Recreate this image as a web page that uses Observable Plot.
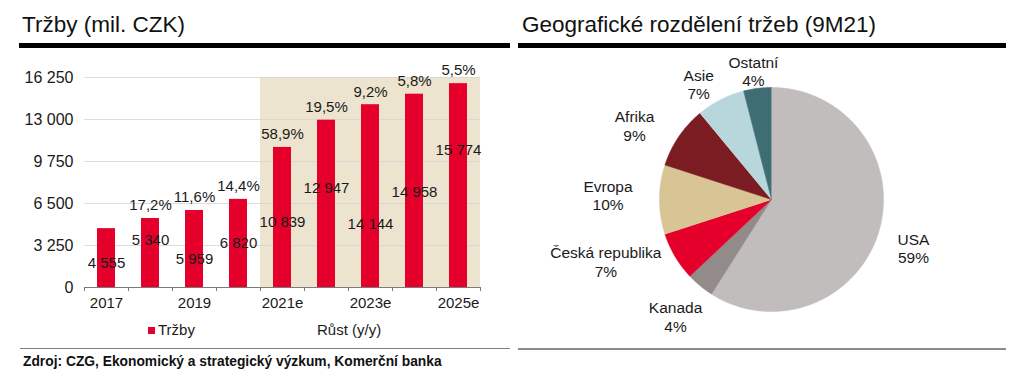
<!DOCTYPE html>
<html>
<head>
<meta charset="utf-8">
<script src="https://cdn.jsdelivr.net/npm/d3@7"></script>
<script src="https://cdn.jsdelivr.net/npm/@observablehq/plot@0.6"></script>
<style>
  body { margin: 0; background: #fff; font-family: "Liberation Sans", Arial, sans-serif; color: #1a1a1a; }
  #wrap { position: relative; width: 1024px; height: 380px; overflow: hidden; }
  .abs { position: absolute; }
  .title { font-size: 22.5px; line-height: 22.5px; white-space: nowrap; color: #111; }
  .bar { background: #000; height: 5px; }
  .leg { font-size: 15px; line-height: 17px; white-space: nowrap; }
  .src { font-size: 13.8px; line-height: 14px; font-weight: bold; white-space: nowrap; color: #111; }
</style>
</head>
<body>
<div id="wrap">
  <div class="abs title" style="left:22px; top:14px;">Tržby (mil. CZK)</div>
  <div class="abs bar" style="left:19px; top:43px; width:491px;"></div>
  <div class="abs" id="barchart" style="left:0px; top:50px;"></div>
  <div class="abs" style="left:148px; top:327px; width:7px; height:7px; background:#e4002b;"></div>
  <div class="abs leg" style="left:158px; top:321px;">Tržby</div>
  <div class="abs leg" style="left:317px; top:321px;">Růst (y/y)</div>
  <div class="abs" style="left:20px; top:348px; width:490px; height:1px; background:#808080;"></div>
  <div class="abs src" style="left:23px; top:355px;">Zdroj: CZG, Ekonomický a strategický výzkum, Komerční banka</div>

  <div class="abs title" style="left:522px; top:14px;">Geografické rozdělení tržeb (9M21)</div>
  <div class="abs bar" style="left:518px; top:43px; width:488px;"></div>
  <div class="abs" id="piechart" style="left:518px; top:50px;"></div>
  <div class="abs" style="left:518px; top:348px; width:488px; height:2px; background:#8c8c8c;"></div>
</div>
<script>
// ---------- data: revenue chart ----------
const years = ["2017", "2018", "2019", "2020", "2021e", "2022e", "2023e", "2024e", "2025e"];
const revenue = [4555, 5340, 5959, 6820, 10839, 12947, 14144, 14958, 15774];
const growthPct = [null, 17.2, 11.6, 14.4, 58.9, 19.5, 9.2, 5.8, 5.5];
const forecastYears = ["2021e", "2022e", "2023e", "2024e", "2025e"];
const yTicks = [0, 3250, 6500, 9750, 13000, 16250];
const xTickLabels = ["2017", "2019", "2021e", "2023e", "2025e"];
// where the value labels sit in the reference (in mil. CZK units)
const revenueLabelAt = [1850, 3640, 2170, 3400, 5030, 7660, 4880, 7350, 10600];

// ---------- data: geographic split ----------
const regions = ["USA", "Kanada", "Česká republika", "Evropa", "Afrika", "Asie", "Ostatní"];
const shares = [59, 4, 7, 10, 9, 7, 4];
const regionColors = ["#c1bdbc", "#928b8a", "#e4002b", "#d9c496", "#7b1c22", "#b7d7dc", "#3e6e73"];
// label placement: distance from centre (in radii) and angular shift (deg)
const labelDist = [1.34, 1.35, 1.58, 1.46, 1.39, 1.22, 1.16];
const labelTurn = [2.7, -0.2, 10, 1.6, -5.8, -5.2, -0.8];

const font = "Liberation Sans, Arial, sans-serif";
const fmtNum = d => d3.format(",")(d).replace(/,/g, " ");
const fmtPct = d => d.toFixed(1).replace(".", ",") + "%";

const rows = years.map((y, i) => ({year: y, value: revenue[i], growth: growthPct[i], labelAt: revenueLabelAt[i]}));

const bar = Plot.plot({
  width: 500,
  height: 262,
  marginLeft: 84,
  marginRight: 20,
  marginTop: 27,
  marginBottom: 25,
  style: {fontFamily: font, color: "#1a1a1a", background: "transparent"},
  x: {domain: years, padding: 0, axis: null},
  y: {domain: [0, 16250], axis: null},
  marks: [
    Plot.barY(forecastYears, {x: d => d, y1: 0, y2: 16250, fill: "#ede4cf"}),
    Plot.gridY(yTicks, {stroke: "#d4d4d4", strokeOpacity: 0.8}),
    Plot.barY(rows, {x: "year", y: "value", fill: "#e4002b", insetLeft: 13, insetRight: 13}),
    Plot.ruleY([0], {stroke: "#7a7a7a"}),
    Plot.axisX({ticks: years, tickSize: 4, dx: -22, tickFormat: () => "", label: null, stroke: "#7a7a7a"}),
    Plot.axisX({ticks: ["2025e"], tickSize: 4, dx: 22, tickFormat: () => "", label: null, stroke: "#7a7a7a"}),
    Plot.axisX({ticks: xTickLabels, tickSize: 0, tickPadding: 10, fontSize: 15, label: null}),
    Plot.axisY({ticks: yTicks, tickSize: 0, tickPadding: 11, fontSize: 16, tickFormat: fmtNum, label: null}),
    Plot.text(rows, {x: "year", y: "labelAt", text: d => fmtNum(d.value), fontSize: 15, fill: "#1a1a1a"}),
    Plot.text(rows.filter(d => d.growth != null), {x: "year", y: "value", text: d => fmtPct(d.growth), dy: -13, fontSize: 15, fill: "#1a1a1a"})
  ]
});
document.getElementById("barchart").append(bar);

// ---------- pie ----------
const W = 488, H = 290, cx = 253, cy = 149, R = 112;
const pts = [];
const labels = [];
let acc = 0;
regions.forEach((name, i) => {
  const a0 = acc / 100 * 2 * Math.PI;
  const a1 = (acc + shares[i]) / 100 * 2 * Math.PI;
  const n = Math.max(4, Math.ceil(shares[i] * 7.2));
  pts.push({name, x: 0, y: 0});
  for (let k = 0; k <= n; k++) {
    const a = a0 + (a1 - a0) * k / n;
    pts.push({name, x: Math.sin(a), y: Math.cos(a)});
  }
  const am = (a0 + a1) / 2 + labelTurn[i] * Math.PI / 180;
  labels.push({name, x: labelDist[i] * Math.sin(am), y: labelDist[i] * Math.cos(am), text: name + "\n" + shares[i] + "%"});
  acc += shares[i];
});

const pie = Plot.plot({
  width: W,
  height: H,
  margin: 0,
  style: {fontFamily: font, color: "#1a1a1a", background: "transparent"},
  x: {domain: [-cx / R, (W - cx) / R], axis: null},
  y: {domain: [-(H - cy) / R, cy / R], axis: null},
  color: {domain: regions, range: regionColors},
  marks: [
    Plot.line(pts, {x: "x", y: "y", z: "name", fill: "name", stroke: "name", strokeWidth: 0.6, curve: "linear"}),
    Plot.text(labels, {x: "x", y: "y", text: "text", fontSize: 15.5, lineHeight: 1.2, fill: "#1a1a1a"})
  ]
});
document.getElementById("piechart").append(pie);
</script>
</body>
</html>
